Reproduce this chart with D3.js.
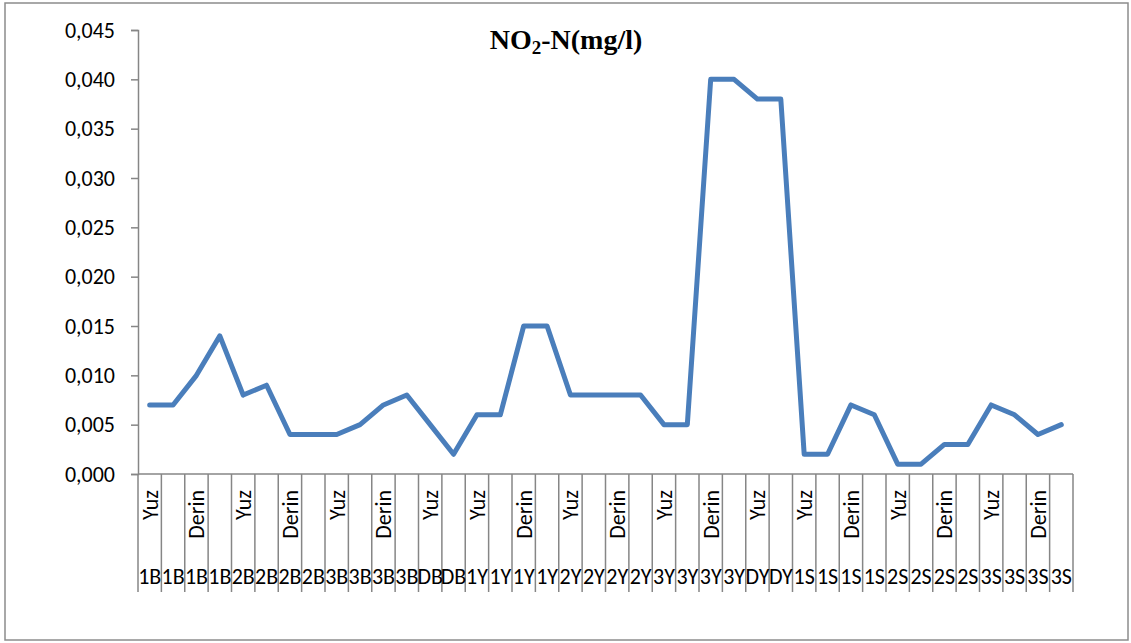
<!DOCTYPE html>
<html lang="en">
<head>
<meta charset="UTF-8">
<title>NO2-N</title>
<script src="https://cdn.jsdelivr.net/npm/d3@7"></script>
<style>
    body { margin: 0; background: #ffffff; }
    .axis text { font-family: Carlito, "Open Sans", sans-serif; font-size: 22px; fill: #000; }
</style>
</head>
<body>
<div id="output"></div>
<script>

// outer category row (bottom)
var stations = ["1B","1B","1B","1B","2B","2B","2B","2B","3B","3B","3B","3B","DB","DB",
                "1Y","1Y","1Y","1Y","2Y","2Y","2Y","2Y","3Y","3Y","3Y","3Y","DY","DY",
                "1S","1S","1S","1S","2S","2S","2S","2S","3S","3S","3S","3S"];
// inner category row (only every other label is shown)
var depths = ["Yuz","","Derin","","Yuz","","Derin","","Yuz","","Derin","","Yuz","",
              "Yuz","","Derin","","Yuz","","Derin","","Yuz","","Derin","","Yuz","",
              "Yuz","","Derin","","Yuz","","Derin","","Yuz","","Derin",""];
var values = [0.007,0.007,0.010,0.014,0.008,0.009,0.004,0.004,0.004,0.005,0.007,0.008,0.005,0.002,
              0.006,0.006,0.015,0.015,0.008,0.008,0.008,0.008,0.005,0.005,0.040,0.040,0.038,0.038,
              0.002,0.002,0.007,0.006,0.001,0.001,0.003,0.003,0.007,0.006,0.004,0.005];
var yTicks = [0, 0.005, 0.010, 0.015, 0.020, 0.025, 0.030, 0.035, 0.040, 0.045];

var w = 1131;
var h = 643;
var axisColor = "#868686";

var svg = d3.select("#output")
            .append("svg")
            .attr("width", w)
            .attr("height", h);

// chart border
svg.append("rect")
    .attr("x", 5).attr("y", 3)
    .attr("width", 1123).attr("height", 637)
    .attr("fill", "#fff")
    .attr("stroke", "#8c8c8c")
    .attr("stroke-width", 1.5);

var plotLeft = 138, plotRight = 1073, plotTop = 30, plotBottom = 474;

var xScale = d3.scaleBand()
        .domain(d3.range(values.length))
        .range([plotLeft, plotRight]);

var yScale = d3.scaleLinear()
        .domain([0, 0.045])
        .range([plotBottom, plotTop]);

// y axis
var yAxisGen = d3.axisLeft(yScale)
        .tickValues(yTicks)
        .tickSize(7)
        .tickPadding(16)
        .tickFormat(function(d){ return d3.format(".3f")(d).replace(".", ","); });

var yAxis = svg.append("g")
        .attr("class", "axis")
        .attr("transform", "translate(" + plotLeft + ",0)")
        .call(yAxisGen);
yAxis.select(".domain").attr("stroke", axisColor).attr("stroke-width", 1.5);
yAxis.selectAll(".tick line").attr("stroke", axisColor).attr("stroke-width", 1.5);

// x axis line
svg.append("line")
    .attr("x1", plotLeft).attr("x2", plotRight)
    .attr("y1", plotBottom).attr("y2", plotBottom)
    .attr("stroke", axisColor).attr("stroke-width", 1.5);

// category separators through both label rows
var bounds = d3.range(values.length + 1).map(function(i){
    return i < values.length ? xScale(i) : xScale(i - 1) + xScale.bandwidth();
});
svg.append("g").selectAll("line")
    .data(bounds)
    .enter()
    .append("line")
        .attr("x1", function(d){ return d; })
        .attr("x2", function(d){ return d; })
        .attr("y1", plotBottom)
        .attr("y2", 592)
        .attr("stroke", axisColor)
        .attr("stroke-width", 1.5);

var labels = svg.append("g").attr("class", "axis");

// inner labels, rotated
labels.selectAll("text.depth")
    .data(depths)
    .enter()
    .append("text")
        .attr("class", "depth")
        .attr("transform", function(d, i){
            return "translate(" + (xScale(i) + xScale.bandwidth()/2 + 8) + ",490) rotate(-90)";
        })
        .attr("text-anchor", "end")
        .text(function(d){ return d; });

// outer labels
labels.selectAll("text.station")
    .data(stations)
    .enter()
    .append("text")
        .attr("class", "station")
        .attr("x", function(d, i){ return xScale(i) + xScale.bandwidth()/2; })
        .attr("y", 584)
        .attr("text-anchor", "middle")
        .text(function(d){ return d; });

// series line
var line = d3.line()
        .x(function(d, i){ return xScale(i) + xScale.bandwidth()/2; })
        .y(function(d){ return yScale(d); });

svg.append("path")
    .attr("d", line(values))
    .attr("fill", "none")
    .attr("stroke", "#4a7ebb")
    .attr("stroke-width", 5)
    .attr("stroke-linejoin", "round")
    .attr("stroke-linecap", "round");

// title
var title = svg.append("text")
        .attr("x", 566)
        .attr("y", 49)
        .attr("text-anchor", "middle")
        .style("font-family", "'Liberation Serif', 'Times New Roman', serif")
        .style("font-weight", "bold")
        .style("font-size", "28px");
title.append("tspan").text("NO");
title.append("tspan").attr("dy", 5).style("font-size", "19px").text("2");
title.append("tspan").attr("dy", -5).text("-N(mg/l)");

</script>
</body>
</html>
